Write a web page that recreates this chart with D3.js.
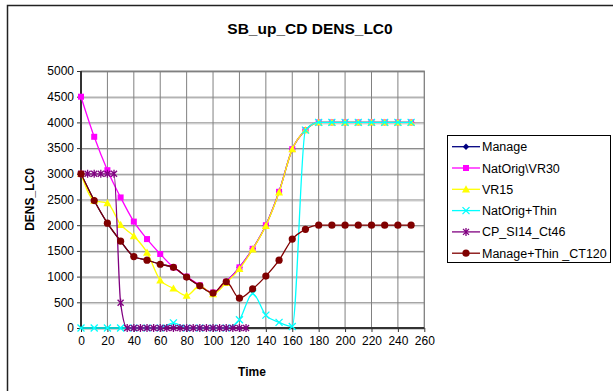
<!DOCTYPE html>
<html><head><meta charset="utf-8">
<script src="https://cdn.jsdelivr.net/npm/d3@7"></script>
<style>body{margin:0;background:#fff}svg{display:block}text{font-family:"Liberation Sans",Arial,sans-serif}</style>
</head><body><svg id="c" width="613" height="391"></svg>
<script>
const title = "SB_up_CD DENS_LC0";
const xTicks = [0,20,40,60,80,100,120,140,160,180,200,220,240,260];
const yTicks = [0,500,1000,1500,2000,2500,3000,3500,4000,4500,5000];
const years10 = [0,10,20,30,40,50,60,70,80,90,100,110,120,130,140,150,160,170,180,190,200,210,220,230,240,250];
const years5 = [0,5,10,15,20,25,30,35,40,45,50,55,60,65,70,75,80,85,90,95,100,105,110,115,120,125];
const manage     = [3000,2480,2040,1690,1390,1320,1240,1180,990,820,680,900,1180,1540,2000,2650,3480,3850,4000,4000,4000,4000,4000,4000,4000,4000];
const natOrigVR30= [4500,3720,3070,2540,2070,1730,1440,1180,1000,830,690,900,1180,1540,2000,2650,3480,3850,4000,4000,4000,4000,4000,4000,4000,4000];
const vr15       = [3000,2480,2430,2010,1790,1470,930,770,630,820,660,880,1150,1530,1990,2640,3480,3850,4000,4000,4000,4000,4000,4000,4000,4000];
const natOrigThin= [0,0,0,0,0,0,0,100,0,0,0,0,160,670,250,110,30,3850,4000,4000,4000,4000,4000,4000,4000,4000];
const cpSI14     = [3000,3000,3000,3000,3000,3000,490,0,0,0,0,0,0,0,0,0,0,0,0,0,0,0,0,0,0,0];
const manageThin = [3000,2480,2040,1690,1390,1320,1240,1180,990,820,680,900,580,760,1010,1320,1730,1920,2000,2000,2000,2000,2000,2000,2000,2000];

const series = [
  {name:"Manage", x:years10, y:manage, color:"#000080", marker:"diamond"},
  {name:"NatOrig\\VR30", x:years10, y:natOrigVR30, color:"#FF00FF", marker:"square"},
  {name:"VR15", x:years10, y:vr15, color:"#FFFF00", marker:"triangle"},
  {name:"NatOrig+Thin", x:years10, y:natOrigThin, color:"#00FFFF", marker:"x"},
  {name:"CP_SI14_Ct46", x:years5, y:cpSI14, color:"#800080", marker:"star"},
  {name:"Manage+Thin _CT120", x:years10, y:manageThin, color:"#800000", marker:"circle"}
];

const svg = d3.select("#c");
const L=81, R=424.3, T=71, B=328;
const x = d3.scaleLinear().domain([0,260]).range([L,R]);
const y = d3.scaleLinear().domain([0,5000]).range([B,T]);

// outer border (top & left)
svg.append("rect").attr("x",7.5).attr("y",5.5).attr("width",700).attr("height",500)
  .attr("fill","none").attr("stroke","#222").attr("stroke-width",1.5);

// grid
const g = svg.append("g");
yTicks.forEach(v=>{
  g.append("line").attr("x1",L).attr("x2",R).attr("y1",y(v)+0.5).attr("y2",y(v)+0.5).attr("stroke","#808080");
  g.append("line").attr("x1",L).attr("x2",R).attr("y1",y(v)+1.5).attr("y2",y(v)+1.5).attr("stroke","#cfcfcf");
});
xTicks.forEach(v=>{
  g.append("line").attr("x1",x(v)).attr("x2",x(v)).attr("y1",T).attr("y2",B).attr("stroke","#808080");
});
g.append("rect").attr("x",L).attr("y",T).attr("width",R-L).attr("height",B-T).attr("fill","none").attr("stroke","#808080");

// axes
const xa = svg.append("g").attr("transform",`translate(0,${B})`)
  .call(d3.axisBottom(x).tickValues(xTicks).tickSize(4).tickPadding(4).tickFormat(d3.format("d")));
const ya = svg.append("g").attr("transform",`translate(${L},0)`)
  .call(d3.axisLeft(y).tickValues(yTicks).tickSize(4).tickPadding(3).tickFormat(d3.format("d")));
[xa,ya].forEach(a=>{
  a.select(".domain").attr("stroke","#333").attr("stroke-width",2);
  a.selectAll(".tick line").attr("stroke","#333");
  a.selectAll("text").attr("font-size","12px").attr("fill","#000").attr("font-family","Liberation Sans, Arial, sans-serif");
});
ya.select(".domain").attr("d",`M0,${B}V${T}`);
xa.select(".domain").attr("d",`M${L},0H${R}`);

// lines
const line = d3.line().curve(d3.curveMonotoneX);
function marker(sel, type, color){
  const s=3.2;
  if(type==="diamond") sel.append("path").attr("d",`M0,${-s}L${s},0L0,${s}L${-s},0Z`).attr("fill",color);
  if(type==="square") sel.append("rect").attr("x",-3).attr("y",-3).attr("width",6).attr("height",6).attr("fill",color);
  if(type==="triangle") sel.append("path").attr("d","M0,-4L4,3.2L-4,3.2Z").attr("fill",color);
  if(type==="x") sel.append("path").attr("d","M-3.5,-3.5L3.5,3.5M-3.5,3.5L3.5,-3.5").attr("stroke",color).attr("stroke-width",1.3);
  if(type==="star") sel.append("path").attr("d","M-3,-3L3,3M-3,3L3,-3M0,-4V4").attr("stroke",color).attr("stroke-width",1.3);
  if(type==="circle") sel.append("circle").attr("r",3.6).attr("fill",color);
}
const plot = svg.append("g");
series.forEach(s=>{
  const pts = s.x.map((xv,i)=>[x(xv),y(s.y[i])]);
  plot.append("path").attr("d",line(pts)).attr("fill","none").attr("stroke",s.color).attr("stroke-width",1.3);
  pts.forEach(p=>{
    const m = plot.append("g").attr("transform",`translate(${p[0]},${p[1]})`);
    marker(m, s.marker, s.color);
  });
});

// title
svg.append("text").attr("x",310).attr("y",34).attr("text-anchor","middle")
  .attr("font-size","15.5px").attr("font-weight","bold").text(title);
svg.append("text").attr("x",252).attr("y",376).attr("text-anchor","middle")
  .attr("font-size","12px").attr("font-weight","bold").text("Time");
svg.append("text").attr("transform",`translate(34,${(T+B)/2}) rotate(-90)`).attr("text-anchor","middle")
  .attr("font-size","12px").attr("font-weight","bold").text("DENS_LC0");

// legend
const lg = svg.append("g");
lg.append("rect").attr("x",447.5).attr("y",135.5).attr("width",163).attr("height",127).attr("fill","#fff").attr("stroke","#000");
series.forEach((s,i)=>{
  const yy = 146.7 + i*21.3;
  lg.append("line").attr("x1",452).attr("x2",480).attr("y1",yy).attr("y2",yy).attr("stroke",s.color).attr("stroke-width",1.3);
  const m = lg.append("g").attr("transform",`translate(466,${yy})`);
  marker(m, s.marker, s.color);
  lg.append("text").attr("x",482).attr("y",yy+4.5).attr("font-size","12.5px").text(s.name);
});
</script></body></html>
